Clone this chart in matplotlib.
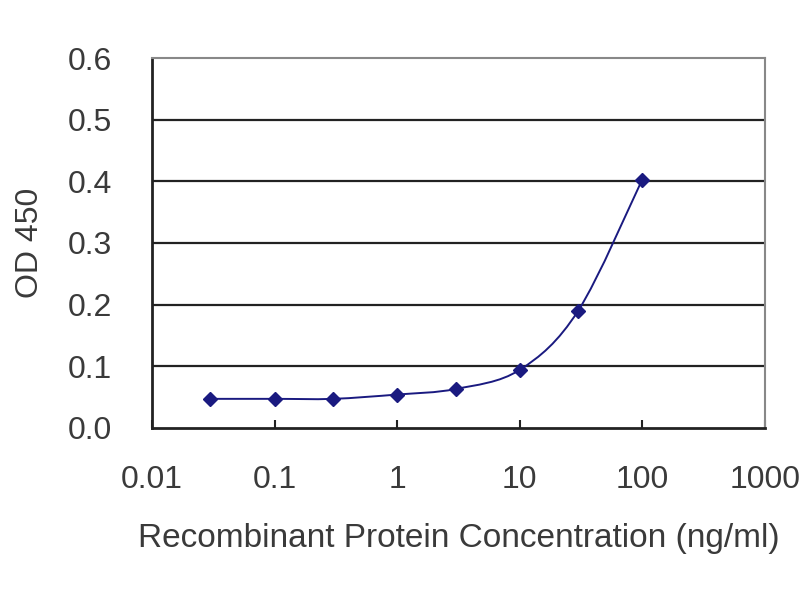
import matplotlib.pyplot as plt
import numpy as np
from matplotlib.path import Path
from matplotlib.patches import PathPatch

plt.rcParams['font.family'] = ['Liberation Sans', 'DejaVu Sans']

conc = [0.03, 0.1, 0.3, 1, 3, 10, 30, 100]
od450 = [0.047, 0.047, 0.047, 0.054, 0.063, 0.094, 0.19, 0.403]
x_ticks = [0.01, 0.1, 1, 10, 100, 1000]
x_labels = ['0.01', '0.1', '1', '10', '100', '1000']
y_ticks = [0.0, 0.1, 0.2, 0.3, 0.4, 0.5, 0.6]

navy = '#1a1a80'
text_col = '#3a3a3a'

fig = plt.figure(figsize=(8, 6), dpi=100)
ax = fig.add_axes([0.19, 0.287, 0.766, 0.616])

ax.set_xscale('log')
ax.set_xlim(0.01, 1000)
ax.set_ylim(0, 0.6)

for yv in y_ticks[1:-1]:
    ax.axhline(yv, color='#222222', lw=1.6, zorder=1)

# smoothed line (bezier through the points, built in log-x space)
lx = np.log10(conc)
ly = np.array(od450)
verts = [(lx[0], ly[0])]
codes = [Path.MOVETO]
n = len(lx)
for i in range(n - 1):
    p0 = (lx[max(i - 1, 0)], ly[max(i - 1, 0)])
    p1 = (lx[i], ly[i])
    p2 = (lx[i + 1], ly[i + 1])
    p3 = (lx[min(i + 2, n - 1)], ly[min(i + 2, n - 1)])
    c1 = (p1[0] + (p2[0] - p0[0]) / 6, p1[1] + (p2[1] - p0[1]) / 6)
    c2 = (p2[0] - (p3[0] - p1[0]) / 6, p2[1] - (p3[1] - p1[1]) / 6)
    verts += [c1, c2, p2]
    codes += [Path.CURVE4] * 3
verts = [(10 ** vx, vy) for vx, vy in verts]
ax.add_patch(PathPatch(Path(verts, codes), fill=False, edgecolor=navy, lw=1.4, zorder=3))
ax.plot(conc, od450, linestyle='none', marker='D', ms=7.5, color=navy, zorder=4)

ax.set_xticks(x_ticks)
ax.set_xticklabels(x_labels)
ax.minorticks_off()
ax.set_yticks(y_ticks)
ax.set_yticklabels(['%.1f' % v for v in y_ticks])
ax.tick_params(axis='x', direction='in', length=6, width=1.5, color='#222222',
               labelsize=23, labelcolor=text_col, pad=27)
ax.tick_params(axis='y', direction='in', length=0, labelsize=23,
               labelcolor=text_col, pad=29)

for side in ['left', 'bottom']:
    ax.spines[side].set_color('#222222')
    ax.spines[side].set_linewidth(2)
for side in ['top', 'right']:
    ax.spines[side].set_color('#888888')
    ax.spines[side].set_linewidth(1.5)

ax.set_xlabel('Recombinant Protein Concentration (ng/ml)', fontsize=24,
              color=text_col, labelpad=20)
ax.set_ylabel('OD 450', fontsize=23, color=text_col, labelpad=16)

fig.savefig('out.png', dpi=100)
